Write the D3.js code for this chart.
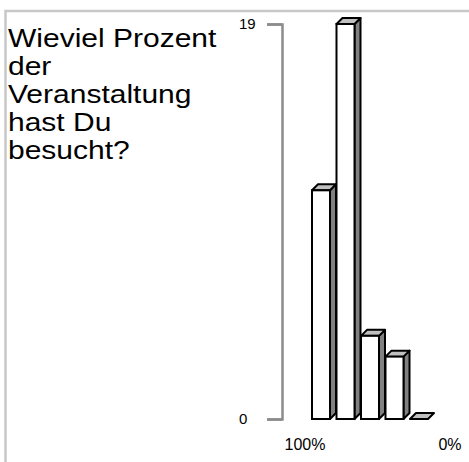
<!DOCTYPE html>
<html>
<head>
<meta charset="utf-8">
<script src="https://cdn.jsdelivr.net/npm/d3@7"></script>
<style>
  body { margin: 0; background: #fff; }
  text { font-family: "Liberation Sans", Arial, sans-serif; fill: #000; }
</style>
</head>
<body>
<div id="chart"></div>
<script>
// data
var categories = ["100%", "75%", "50%", "25%", "0%"];
var counts = [11, 19, 4, 3, 0];
var yTicks = [0, 19];
var endLabels = ["100%", "0%"];
var titleLines = ["Wieviel Prozent", "der", "Veranstaltung", "hast Du", "besucht?"];

var W = 469, H = 462;
var depth = 6;

var svg = d3.select("#chart").append("svg")
  .attr("width", W)
  .attr("height", H);

// frame (top and left edges visible)
svg.append("path")
  .attr("d", "M5.5," + H + "V11H" + W)
  .attr("fill", "none")
  .attr("stroke", "#c8c8c8")
  .attr("stroke-width", 2.5);

// title
var title = svg.append("text")
  .attr("transform", "translate(8,47) scale(1.2,1)")
  .style("font-size", "25px");
title.selectAll("tspan")
  .data(titleLines)
  .enter()
  .append("tspan")
    .attr("x", 0)
    .attr("dy", function(d, i) { return i === 0 ? 0 : 28; })
    .text(function(d) { return d; });

// scales
var y = d3.scaleLinear().domain([0, 19]).range([419, 24]);
var x = d3.scaleBand()
  .domain(categories)
  .range([312, 428])
  .paddingInner(0.265)
  .paddingOuter(0);

// y axis
var yAxis = svg.append("g")
  .attr("transform", "translate(282,0)")
  .call(d3.axisLeft(y).tickValues(yTicks).tickSize(15).tickSizeOuter(15).tickFormat(d3.format("d")));
yAxis.selectAll("path, line")
  .attr("stroke", "#8c8c8c")
  .attr("stroke-width", 2.5);
yAxis.selectAll("text")
  .attr("text-anchor", "start")
  .attr("x", -43)
  .style("font-size", "15px")
  .style("font-family", "'Liberation Sans', Arial, sans-serif")
  .attr("fill", "#000");

// 3d bars
var bw = x.bandwidth();
var bars = svg.append("g").selectAll("g")
  .data(categories.map(function(c, i) { return {cat: c, v: counts[i]}; }))
  .enter()
  .append("g");

// side face
bars.filter(function(d) { return d.v > 0; })
  .append("path")
    .attr("d", function(d) {
      var x0 = x(d.cat) + bw, yt = y(d.v), yb = y(0);
      return "M" + x0 + "," + yt + "L" + (x0 + depth) + "," + (yt - depth) +
             "L" + (x0 + depth) + "," + (yb - depth) + "L" + x0 + "," + yb + "Z";
    })
    .attr("fill", "#808080")
    .attr("stroke", "#000")
    .attr("stroke-width", 2)
    .attr("stroke-linejoin", "round");

// top face
bars.append("path")
  .attr("d", function(d) {
    var x0 = x(d.cat), yt = y(d.v);
    return "M" + x0 + "," + yt + "L" + (x0 + depth) + "," + (yt - depth) +
           "L" + (x0 + bw + depth) + "," + (yt - depth) + "L" + (x0 + bw) + "," + yt + "Z";
  })
  .attr("fill", "#c0c0c0")
  .attr("stroke", "#000")
  .attr("stroke-width", 2)
  .attr("stroke-linejoin", "round");

// front face
bars.filter(function(d) { return d.v > 0; })
  .append("rect")
    .attr("x", function(d) { return x(d.cat); })
    .attr("y", function(d) { return y(d.v); })
    .attr("width", bw)
    .attr("height", function(d) { return y(0) - y(d.v); })
    .attr("fill", "#fff")
    .attr("stroke", "#000")
    .attr("stroke-width", 2);

// end labels on the category axis
var xl = d3.scalePoint().domain(endLabels).range([305, 450]);
svg.append("g").selectAll("text")
  .data(endLabels)
  .enter()
  .append("text")
    .attr("x", function(d) { return xl(d); })
    .attr("y", 450)
    .attr("text-anchor", "middle")
    .style("font-size", "16px")
    .text(function(d) { return d; });
</script>
</body>
</html>
